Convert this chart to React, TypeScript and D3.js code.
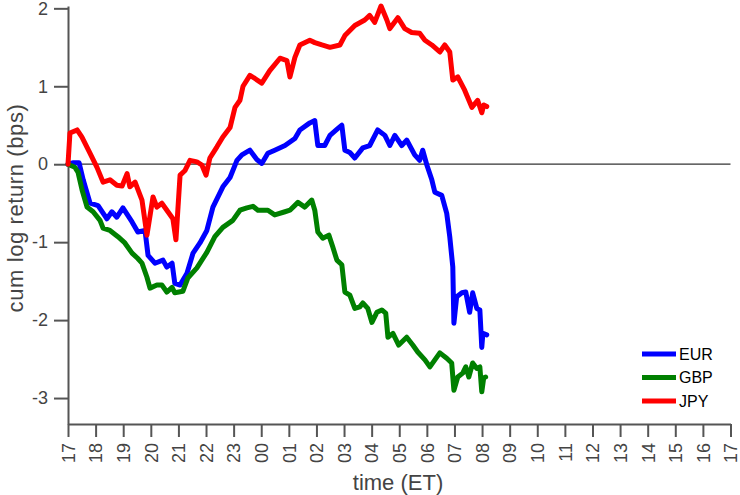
import React, { useEffect, useRef } from "react";
import * as d3 from "d3";

// hours since 17:00 ET, cumulative log return in bps
const eur: [number, number][] = [
  [0, 0], [0.2, 0.02], [0.4, 0.02], [0.55, -0.2], [0.8, -0.5], [1.09, -0.53], [1.41, -0.7],
  [1.59, -0.61], [1.77, -0.68], [1.99, -0.56], [2.32, -0.74], [2.53, -0.87], [2.79, -0.85],
  [2.9, -1.17], [3.15, -1.27], [3.44, -1.23], [3.58, -1.32], [3.77, -1.27], [3.87, -1.53],
  [4.06, -1.55], [4.31, -1.4], [4.53, -1.14], [4.78, -1.01], [5.03, -0.85], [5.25, -0.55],
  [5.61, -0.29], [5.87, -0.17], [6.12, 0.05], [6.3, 0.12], [6.59, 0.18], [6.84, 0.06],
  [7.02, 0.01], [7.24, 0.14], [7.49, 0.18], [7.86, 0.24], [8.22, 0.33], [8.4, 0.44],
  [8.76, 0.53], [8.94, 0.56], [9.05, 0.24], [9.3, 0.24], [9.49, 0.37], [9.78, 0.46],
  [9.92, 0.5], [10.03, 0.18], [10.21, 0.15], [10.39, 0.08], [10.68, 0.21], [10.93, 0.24],
  [11.22, 0.44], [11.48, 0.37], [11.66, 0.24], [11.84, 0.37], [12.09, 0.24], [12.27, 0.31],
  [12.56, 0.12], [12.74, 0.05], [12.85, 0.18], [13.0, -0.01], [13.18, -0.2], [13.29, -0.36],
  [13.54, -0.4], [13.72, -0.63], [13.83, -0.93], [13.94, -1.32], [13.98, -2.04], [14.08, -1.7],
  [14.27, -1.65], [14.41, -1.64], [14.55, -1.9], [14.66, -1.65], [14.81, -1.85], [14.92, -1.87],
  [14.99, -2.35], [15.03, -2.17], [15.17, -2.19],
];

const gbp: [number, number][] = [
  [0, 0], [0.25, -0.04], [0.36, -0.1], [0.51, -0.33], [0.69, -0.55], [0.91, -0.61], [1.16, -0.72],
  [1.27, -0.82], [1.52, -0.85], [1.81, -0.93], [2.06, -1.01], [2.32, -1.14], [2.53, -1.21],
  [2.68, -1.27], [2.86, -1.45], [2.97, -1.59], [3.22, -1.55], [3.4, -1.55], [3.58, -1.64],
  [3.77, -1.58], [3.87, -1.65], [4.16, -1.63], [4.34, -1.46], [4.67, -1.33], [5.03, -1.13],
  [5.32, -0.93], [5.61, -0.81], [5.97, -0.72], [6.23, -0.59], [6.48, -0.56], [6.7, -0.54],
  [6.88, -0.59], [7.02, -0.59], [7.24, -0.59], [7.49, -0.65], [7.86, -0.61], [8.04, -0.59],
  [8.33, -0.49], [8.58, -0.55], [8.83, -0.46], [8.94, -0.59], [9.05, -0.87], [9.23, -0.95],
  [9.45, -0.91], [9.59, -1.06], [9.74, -1.23], [9.92, -1.29], [10.03, -1.64], [10.21, -1.68],
  [10.39, -1.85], [10.57, -1.83], [10.68, -1.78], [10.86, -1.85], [11.01, -2.03], [11.19, -1.9],
  [11.37, -1.87], [11.51, -1.91], [11.59, -2.22], [11.77, -2.17], [11.98, -2.32], [12.27, -2.22],
  [12.49, -2.32], [12.67, -2.41], [12.93, -2.51], [13.11, -2.6], [13.47, -2.42], [13.72, -2.49],
  [13.9, -2.55], [13.98, -2.9], [14.12, -2.73], [14.3, -2.68], [14.41, -2.6], [14.52, -2.73],
  [14.66, -2.55], [14.81, -2.62], [14.92, -2.6], [14.99, -2.92], [15.06, -2.74], [15.13, -2.73],
];

const jpy: [number, number][] = [
  [0, 0], [0.07, 0.4], [0.33, 0.44], [0.5, 0.35], [0.8, 0.14], [1.05, -0.04], [1.27, -0.23],
  [1.52, -0.2], [1.77, -0.27], [1.96, -0.28], [2.14, -0.12], [2.24, -0.29], [2.43, -0.23],
  [2.68, -0.46], [2.86, -0.91], [3.08, -0.42], [3.22, -0.55], [3.4, -0.5], [3.62, -0.61],
  [3.8, -0.7], [3.91, -0.97], [4.06, -0.14], [4.24, -0.08], [4.42, 0.05], [4.67, 0.03],
  [4.85, -0.01], [5.0, -0.14], [5.14, 0.08], [5.39, 0.22], [5.61, 0.35], [5.87, 0.47],
  [6.05, 0.73], [6.23, 0.82], [6.34, 1.0], [6.59, 1.14], [6.77, 1.1], [7.02, 1.04], [7.31, 1.2],
  [7.68, 1.36], [7.93, 1.33], [8.04, 1.12], [8.22, 1.37], [8.4, 1.53], [8.76, 1.59], [8.94, 1.56],
  [9.2, 1.53], [9.49, 1.5], [9.85, 1.53], [10.03, 1.65], [10.39, 1.78], [10.75, 1.85],
  [10.93, 1.91], [11.11, 1.82], [11.34, 2.03], [11.55, 1.85], [11.66, 1.74], [11.95, 1.88],
  [12.2, 1.74], [12.45, 1.69], [12.74, 1.68], [12.93, 1.59], [13.18, 1.53], [13.47, 1.44],
  [13.65, 1.53], [13.83, 1.44], [13.94, 1.08], [14.12, 1.12], [14.37, 0.95], [14.63, 0.73],
  [14.84, 0.82], [14.99, 0.66], [15.06, 0.76], [15.17, 0.74],
];

const seriesNames = ["EUR", "GBP", "JPY"];
const seriesColors = ["#0000ff", "#008000", "#ff0000"];
const hourLabels = [
  "17", "18", "19", "20", "21", "22", "23", "00", "01", "02", "03", "04", "05",
  "06", "07", "08", "09", "10", "11", "12", "13", "14", "15", "16", "17",
];
const yTicks = [-3, -2, -1, 0, 1, 2];

const W = 740;
const H = 495;
const axisColor = "#555";
const font = "Liberation Sans, Arial, sans-serif";

const App = () => {
  const svgRef = useRef<SVGSVGElement>(null);

  useEffect(() => {
    const svg = d3.select(svgRef.current);
    svg.selectAll("*").remove();

    const x = d3.scaleLinear().domain([0, 24]).range([68, 730.5]);
    const y = d3.scaleLinear().domain([-3.333, 2.03]).range([424, 6]);

    // zero line
    svg
      .append("line")
      .attr("x1", x(0))
      .attr("x2", x(24))
      .attr("y1", y(0))
      .attr("y2", y(0))
      .attr("stroke", "#333")
      .attr("stroke-width", 1.3);

    // y axis (plain hyphen for the minus sign)
    const yAxis = svg
      .append("g")
      .attr("transform", `translate(${x(0)},0)`)
      .call(d3.axisLeft(y).tickValues(yTicks).tickSize(14).tickPadding(6).tickSizeOuter(0).tickFormat((d) => String(d)));
    yAxis.select(".domain").attr("stroke", axisColor).attr("stroke-width", 2);
    yAxis.selectAll(".tick line").attr("stroke", axisColor).attr("stroke-width", 2);
    yAxis
      .selectAll(".tick text")
      .attr("fill", "#444")
      .attr("font-size", 18)
      .attr("font-family", font);

    // x axis
    const xAxis = svg
      .append("g")
      .attr("transform", `translate(0,${y.range()[0]})`)
      .call(
        d3
          .axisBottom(x)
          .tickValues(d3.range(hourLabels.length))
          .tickSize(13)
          .tickSizeOuter(0)
          .tickFormat((d, i) => hourLabels[i])
      );
    xAxis.select(".domain").attr("stroke", axisColor).attr("stroke-width", 2);
    xAxis.selectAll(".tick line").attr("stroke", axisColor).attr("stroke-width", 2);
    xAxis
      .selectAll(".tick text")
      .attr("fill", "#444")
      .attr("font-size", 18)
      .attr("font-family", font)
      .attr("text-anchor", "end")
      .attr("transform", "rotate(-90)")
      .attr("x", -19)
      .attr("y", 0)
      .attr("dy", "0.35em");

    // series
    const line = d3
      .line<[number, number]>()
      .x((d) => x(d[0]))
      .y((d) => y(d[1]));
    [eur, gbp, jpy].forEach((data, i) => {
      svg
        .append("path")
        .datum(data)
        .attr("d", line)
        .attr("fill", "none")
        .attr("stroke", seriesColors[i])
        .attr("stroke-width", 5)
        .attr("stroke-linejoin", "round")
        .attr("stroke-linecap", "round");
    });

    // axis titles
    svg
      .append("text")
      .attr("x", 398)
      .attr("y", 490)
      .attr("text-anchor", "middle")
      .attr("font-size", 22)
      .attr("font-family", font)
      .attr("fill", "#444")
      .text("time (ET)");
    svg
      .append("text")
      .attr("transform", "translate(23,208) rotate(-90)")
      .attr("text-anchor", "middle")
      .attr("font-size", 22)
      .attr("letter-spacing", 0.6)
      .attr("font-family", font)
      .attr("fill", "#444")
      .text("cum log return (bps)");

    // legend
    const legend = svg.append("g");
    seriesNames.forEach((name, i) => {
      const ly = 354 + i * 23.5;
      legend
        .append("line")
        .attr("x1", 642)
        .attr("x2", 676)
        .attr("y1", ly)
        .attr("y2", ly)
        .attr("stroke", seriesColors[i])
        .attr("stroke-width", 5);
      legend
        .append("text")
        .attr("x", 679)
        .attr("y", ly)
        .attr("dy", "0.36em")
        .attr("font-size", 16)
        .attr("font-family", font)
        .attr("fill", "#000")
        .text(name);
    });
  }, []);

  return (
    <svg
      ref={svgRef}
      width={W}
      height={H}
      style={{ position: "absolute", left: 0, top: 0, background: "#fff" }}
    />
  );
};

export default App;
